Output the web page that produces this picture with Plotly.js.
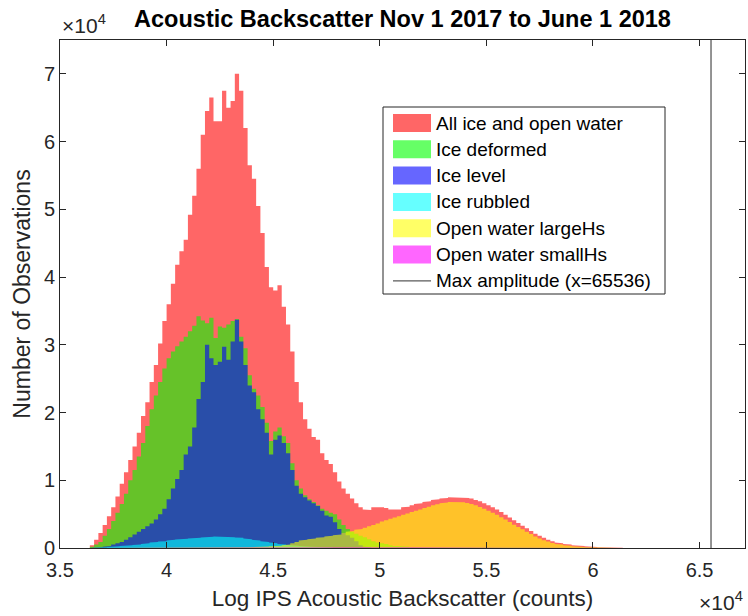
<!DOCTYPE html>
<html>
<head>
<meta charset="utf-8">
<script src="https://cdn.plot.ly/plotly-3.0.1.min.js"></script>
<style>
  html, body { margin: 0; padding: 0; background: #ffffff; }
  #chart { width: 748px; height: 616px; }
</style>
</head>
<body>
<div id="chart"></div>
<script>
// ---------------- DATA ----------------
const BIN_START = 36400;   // left edge of first histogram bin (counts)
const BIN_WIDTH = 200;     // histogram bin width (counts)
const MAX_AMPLITUDE = 65536;

const SERIES_NAMES = ['All ice and open water', 'Ice deformed', 'Ice level', 'Ice rubbled',
                      'Open water largeHs', 'Open water smallHs'];
const MAX_LABEL = 'Max amplitude (x=65536)';

const ALL_COUNTS = [400,1200,2200,3400,4700,6000,7600,9500,11200,13000,
  15000,17000,19500,21500,24500,27000,30200,33500,36000,39000,
  41800,43800,45500,49200,52000,56000,61000,64500,66500,63000,
  63000,67500,65000,66000,70000,67500,62000,56500,54500,50500,
  46500,41500,38500,38000,38800,35600,33000,29000,24500,21500,
  19000,17600,16400,16000,14000,13000,12400,11200,9800,8800,
  8000,7300,6600,6000,5700,5600,6000,6100,6000,5900,
  5700,5600,5700,6000,6100,6300,6500,6600,6800,6900,
  7100,7200,7300,7400,7500,7500,7500,7500,7400,7300,
  7100,6900,6600,6300,6000,5700,5300,4900,4500,4100,
  3700,3300,2900,2500,2100,1800,1500,1200,1000,800,
  700,600,500,400,350,300,250,200,150,120,
  100,80,50,30,20];

const DEFORMED_COUNTS = [200,500,900,1800,2800,4000,5200,6500,8000,10000,
  11500,13500,15500,18000,20500,22500,24500,26500,28000,29000,
  29800,30500,31200,32000,32800,34200,33600,33200,34000,31000,
  32700,32500,33000,33500,33800,31200,29500,25500,23500,22500,
  20800,18500,15800,17200,17800,16500,15500,12500,10000,8800,
  7800,7200,6800,6300,5800,5500,5200,5000,4200,3400,
  2800,2400,2100,1800,1600,1300,1000,800,700,600,
  400,300,300,200,200,100,100,50,0,0,
  0,0,0,0,0,0,0,0,0,0,
  0,0,0,0,0,0,0,0,0,0,
  0,0,0,0,0,0,0,0,0,0,
  0,0,0,0,0,0,0,0,0,0,
  0,0,0,0,0];

const LEVEL_COUNTS = [0,50,100,200,300,500,700,900,1200,1600,
  2000,2400,2800,3200,3600,4200,5000,5800,7200,8800,
  10200,11500,13800,15000,17800,22000,24500,30000,28000,27000,
  27500,29700,27800,30500,33700,30500,27000,24000,23000,20500,
  19000,17000,13800,16000,16600,15500,14000,11500,9200,8000,
  7500,7000,6600,6200,5500,4800,4600,3800,2800,2200,
  1900,1500,1000,400,200,100,0,0,0,0,
  0,0,0,0,0,0,0,0,0,0,
  0,0,0,0,0,0,0,0,0,0,
  0,0,0,0,0,0,0,0,0,0,
  0,0,0,0,0,0,0,0,0,0,
  0,0,0,0,0,0,0,0,0,0,
  0,0,0,0,0];

const RUBBLED_COUNTS = [0,0,50,100,150,200,250,300,350,400,
  450,500,600,700,800,900,950,1000,1100,1200,
  1250,1300,1350,1400,1450,1500,1550,1600,1650,1700,
  1700,1700,1650,1600,1550,1500,1400,1300,1200,1100,
  1000,900,800,700,600,500,450,400,350,300,
  250,200,180,150,120,100,80,50,30,20,
  0,0,0,0,0,0,0,0,0,0,
  0,0,0,0,0,0,0,0,0,0,
  0,0,0,0,0,0,0,0,0,0,
  0,0,0,0,0,0,0,0,0,0,
  0,0,0,0,0,0,0,0,0,0,
  0,0,0,0,0,0,0,0,0,0,
  0,0,0,0,0];

const OW_LARGE_COUNTS = [0,0,0,0,0,0,0,0,0,0,
  0,0,0,0,0,0,0,0,0,0,
  0,0,0,0,0,0,0,0,0,0,
  20,30,40,50,60,80,100,120,150,170,
  200,230,260,300,350,400,500,700,900,1100,
  1200,1300,1400,1500,1600,1700,1800,1900,2000,2200,
  2400,2500,2700,2800,3000,3200,3400,3600,3900,4100,
  4300,4500,4700,4900,5100,5300,5500,5700,5900,6100,
  6300,6450,6600,6700,6800,6850,6800,6750,6650,6500,
  6300,6050,5800,5500,5200,4900,4550,4200,3850,3450,
  3100,2750,2400,2050,1700,1400,1150,950,750,600,
  500,400,320,260,200,160,120,100,80,60,
  40,30,20,10,5];

const OW_SMALL_COUNTS = [0,0,0,0,0,0,0,0,0,0,
  0,0,0,0,0,0,0,0,0,0,
  0,0,0,0,0,0,0,0,0,0,
  0,0,0,0,0,0,0,0,0,0,
  0,0,0,0,0,0,0,0,0,0,
  0,0,0,0,0,0,0,0,0,0,
  0,0,0,0,0,20,30,40,50,60,
  70,80,90,100,100,110,120,120,130,130,
  140,140,150,150,150,150,150,150,140,140,
  130,130,120,120,110,100,100,90,80,70,
  60,50,40,30,20,15,10,5,0,0,
  0,0,0,0,0,0,0,0,0,0,
  0,0,0,0,0];

const X_TICKS = [35000, 40000, 45000, 50000, 55000, 60000, 65000];
const X_TICK_LABELS = ['3.5', '4', '4.5', '5', '5.5', '6', '6.5'];
const Y_TICKS = [0, 10000, 20000, 30000, 40000, 50000, 60000, 70000];
const Y_TICK_LABELS = ['0', '1', '2', '3', '4', '5', '6', '7'];

// ---------------- STYLE / LAYOUT ----------------
const FONT = 'Liberation Sans, Arial, Helvetica, sans-serif';
const AX = '#262626';
const W = 748, H = 616;
const M = {l: 60, r: 3, t: 40, b: 68};
const PW = W - M.l - M.r, PH = H - M.t - M.b;
const px2x = px => (px - M.l) / PW;
const py2y = py => (H - M.b - py) / PH;

const seriesData = [ALL_COUNTS, DEFORMED_COUNTS, LEVEL_COUNTS, RUBBLED_COUNTS, OW_LARGE_COUNTS, OW_SMALL_COUNTS];
const fillColors = ['rgba(255,0,0,0.6)', 'rgba(0,255,0,0.6)', 'rgba(0,0,255,0.6)',
                    'rgba(0,255,255,0.6)', 'rgba(255,255,0,0.6)', 'rgba(255,0,255,0.6)'];
const legendColors = ['#ff6666', '#66ff66', '#6666ff', '#66ffff', '#ffff66', '#ff66ff'];

// bin edges: each bin drawn as a flat step from its left edge to its right edge
const histX = [BIN_START];
ALL_COUNTS.forEach((_, i) => {
  histX.push(BIN_START + BIN_WIDTH * i, BIN_START + BIN_WIDTH * (i + 1));
});
histX.push(BIN_START + BIN_WIDTH * ALL_COUNTS.length);
const makeY = ys => {
  const out = [0];
  ys.forEach(v => { out.push(v, v); });
  out.push(0);
  return out;
};

const traces = seriesData.map((ys, k) => ({
  type: 'scatter',
  mode: 'lines',
  x: histX,
  y: makeY(ys),
  name: SERIES_NAMES[k],
  line: {width: 0, color: fillColors[k]},
  fill: 'tozeroy',
  fillcolor: fillColors[k],
  showlegend: false,
  hoverinfo: 'skip'
}));

const shapes = [
  {type: 'line', xref: 'x', yref: 'paper', x0: MAX_AMPLITUDE, x1: MAX_AMPLITUDE, y0: 0, y1: 1,
   line: {color: '#5a5a5a', width: 1.3}},
  // legend box
  {type: 'rect', xref: 'paper', yref: 'paper', x0: px2x(383), x1: px2x(665), y0: py2y(294), y1: py2y(107),
   fillcolor: '#ffffff', line: {color: AX, width: 1}, layer: 'above'}
];
const annotations = [];
const rowY0 = 123, rowStep = 26.3;
const labels = SERIES_NAMES.concat([MAX_LABEL]);
labels.forEach((lab, i) => {
  const cy = rowY0 + i * rowStep;
  if (i < 6) {
    shapes.push({type: 'rect', xref: 'paper', yref: 'paper', x0: px2x(393), x1: px2x(431),
      y0: py2y(cy + 9), y1: py2y(cy - 9), fillcolor: legendColors[i], line: {width: 0}, layer: 'above'});
  } else {
    shapes.push({type: 'line', xref: 'paper', yref: 'paper', x0: px2x(393), x1: px2x(431),
      y0: py2y(cy), y1: py2y(cy), line: {color: '#5a5a5a', width: 1.3}, layer: 'above'});
  }
  annotations.push({xref: 'paper', yref: 'paper', x: px2x(434), y: py2y(cy), xanchor: 'left', yanchor: 'middle',
    text: lab, showarrow: false, font: {family: FONT, size: 19, color: '#000000'}});
});
annotations.push({xref: 'paper', yref: 'paper', x: 0, y: 1, xanchor: 'left', yanchor: 'bottom', yshift: 1,
  text: '×10<sup>4</sup>', showarrow: false, font: {family: FONT, size: 21, color: AX}});
annotations.push({xref: 'paper', yref: 'paper', x: 1, y: 0, xanchor: 'right', yanchor: 'top', yshift: -38,
  text: '×10<sup>4</sup>', showarrow: false, font: {family: FONT, size: 21, color: AX}});

const axisCommon = {
  showline: true, linecolor: AX, linewidth: 1, mirror: 'ticks',
  ticks: 'inside', ticklen: 6, tickcolor: AX, tickwidth: 1,
  showgrid: false, zeroline: false, tickmode: 'array',
  tickfont: {family: FONT, size: 20, color: AX}
};

const layout = {
  width: W, height: H,
  margin: M,
  paper_bgcolor: '#ffffff', plot_bgcolor: '#ffffff',
  showlegend: false,
  title: {text: 'Acoustic Backscatter Nov 1 2017 to June 1 2018', x: 0.5, xref: 'paper',
          y: 1 - 19 / H, yref: 'container', yanchor: 'middle',
          font: {family: FONT, size: 23.5, color: '#000000', weight: 'bold'}},
  xaxis: Object.assign({}, axisCommon, {
    range: [35000, 67130], tickvals: X_TICKS, ticktext: X_TICK_LABELS,
    ticklabelstandoff: 4,
    title: {text: 'Log IPS Acoustic Backscatter (counts)', standoff: 10,
            font: {family: FONT, size: 22.5, color: AX}}
  }),
  yaxis: Object.assign({}, axisCommon, {
    range: [0, 75000], tickvals: Y_TICKS, ticktext: Y_TICK_LABELS,
    title: {text: 'Number of Observations', standoff: 6,
            font: {family: FONT, size: 23, color: AX}}
  }),
  shapes: shapes,
  annotations: annotations
};

Plotly.newPlot('chart', traces, layout, {staticPlot: true, displayModeBar: false});
</script>
</body>
</html>
